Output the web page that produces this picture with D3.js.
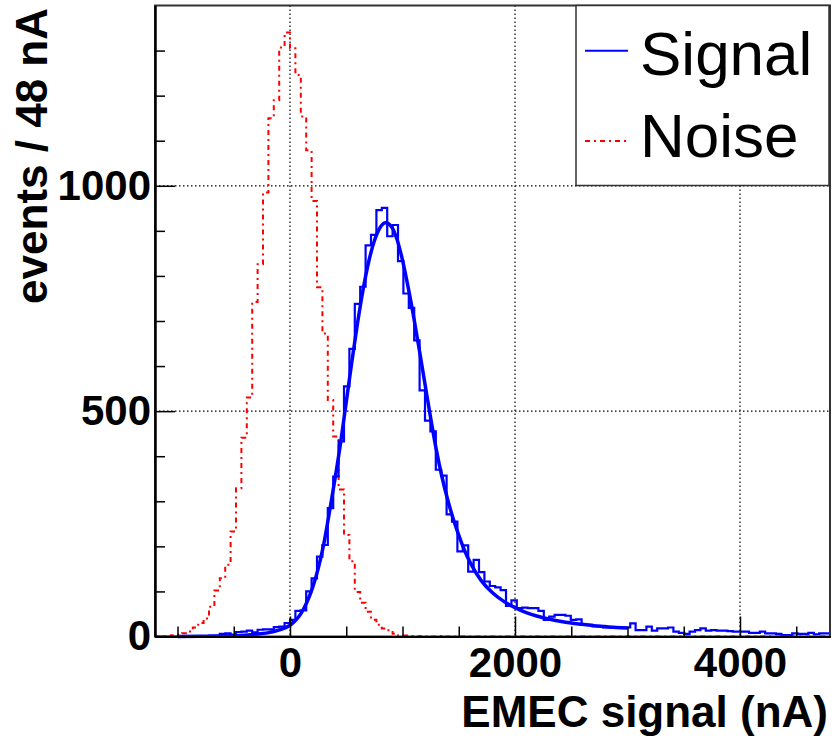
<!DOCTYPE html>
<html>
<head>
<meta charset="utf-8">
<script src="https://cdn.jsdelivr.net/npm/d3@7"></script>
<style>
  body { margin: 0; background: #fff; }
  text { font-family: "Liberation Sans", Arial, Helvetica, sans-serif; }
</style>
</head>
<body>
<div id="container"></div>
<script>
/* DATA */
const binStart = -1200, binWidth = 48;

// events per 48 nA bin, signal histogram
const signalCounts = [
  0, 0, 0, 0, 0, 0, 0, 1, 0, 1,
  2, 2, 6, 7, 4, 10, 11, 13, 9, 15,
  16, 16, 21, 22, 30, 37, 57, 58, 100, 129,
  177, 203, 285, 355, 433, 555, 638, 738, 776, 868,
  891, 946, 951, 888, 913, 833, 761, 729, 657, 546,
  479, 455, 370, 357, 271, 255, 189, 202, 144, 170,
  143, 122, 112, 109, 103, 68, 80, 63, 64, 63,
  63, 57, 37, 44, 48, 48, 46, 37, 38, 26,
  26, 23, 23, 20, 20, 21, 20, 20, 29, 14,
  14, 22, 13, 18, 18, 20, 11, 8, 6, 11,
  14, 18, 13, 14, 13, 13, 12, 11, 11, 11,
  8, 8, 11, 7, 7, 6, 3, 3, 7, 6,
  6, 8, 5, 7, 7
];

// events per 48 nA bin, noise histogram
const noiseCounts = [
  0, 1, 1, 3, 4, 7, 11, 20, 30, 40,
  66, 102, 129, 159, 233, 329, 441, 530, 742, 826,
  985, 1150, 1190, 1307, 1340, 1305, 1246, 1154, 1079, 966,
  775, 672, 525, 444, 326, 225, 167, 99, 75, 55,
  37, 26, 18, 14, 6, 2, 2, 1, 0, 1,
  0, 0, 1, 0, 0, 0, 0, 0, 0, 0,
  0, 0, 0, 0, 0, 0, 0, 0, 0, 0,
  0, 0, 0, 0, 0, 0, 0, 0, 0, 0,
  0, 0, 0, 0, 0, 0, 0, 0, 0, 0,
  0, 0, 0, 0, 0, 0, 0, 0, 0, 0,
  0, 0, 0, 0, 0, 0, 0, 0, 0, 0,
  0, 0, 0, 0, 0, 0, 0, 0, 0, 0,
  0, 0, 0, 0, 0
];

// fit curve to the signal
const fitX = [-1000, -800, -600, -400, -300, -200, -100, 0, 50, 100,
  150, 200, 250, 300, 350, 400, 450, 500, 550, 600,
  650, 700, 750, 800, 850, 900, 950, 1000, 1050, 1100,
  1150, 1200, 1250, 1300, 1350, 1400, 1450, 1500, 1550, 1600,
  1700, 1800, 1900, 2000, 2100, 2200, 2300, 2400, 2500, 2600,
  2700, 2800, 2900, 3000];
const fitY = [0, 0.5, 1, 3, 5, 8, 14, 25, 36, 52,
  76, 108, 150, 205, 275, 350, 430, 520, 610, 695,
  770, 832, 878, 907, 918, 910, 882, 835, 775, 708,
  635, 560, 485, 415, 355, 305, 262, 225, 192, 165,
  124, 97, 78, 64, 53, 45, 39, 34, 30, 27,
  24, 22, 20, 19];

const xMajorTicks = [0, 2000, 4000];
const xMinorTicks = [-1000, -500, 500, 1000, 1500, 2500, 3000, 3500, 4500];
const yMajorTicks = [0, 500, 1000];
const yMinorTicks = [100, 200, 300, 400, 600, 700, 800, 900, 1100, 1200, 1300];

const legendItems = ["Signal", "Noise"];
const xTitle = "EMEC signal (nA)";
const yTitle = "events / 48 nA";

/* CONSTANTS */
const width = 832, height = 738;
const plot = { left: 155, right: 830, top: 5.5, bottom: 636.5 };
const labelFont = 42, titleFont = 44;

/* SCALES */
const xScale = d3.scaleLinear()
  .domain([-1200, 4800])
  .range([plot.left, plot.right]);

const yScale = d3.scaleLinear()
  .domain([0, 1400])
  .range([plot.bottom, plot.top]);

const svg = d3.select("#container")
  .append("svg")
  .attr("width", width)
  .attr("height", height);

svg.append("rect")
  .attr("width", width)
  .attr("height", height)
  .attr("fill", "#fff");

// GRID
svg.append("g")
  .selectAll("line")
  .data(xMajorTicks)
  .join("line")
  .attr("x1", d => xScale(d)).attr("x2", d => xScale(d))
  .attr("y1", plot.top).attr("y2", plot.bottom)
  .attr("stroke", "#000")
  .attr("stroke-width", 1.2)
  .attr("stroke-dasharray", "1.5,2.5");

svg.append("g")
  .selectAll("line")
  .data(yMajorTicks.filter(d => d > 0))
  .join("line")
  .attr("y1", d => yScale(d)).attr("y2", d => yScale(d))
  .attr("x1", plot.left).attr("x2", plot.right)
  .attr("stroke", "#000")
  .attr("stroke-width", 1.2)
  .attr("stroke-dasharray", "1.5,2.5");

// HISTOGRAMS
const toSteps = counts => {
  const pts = counts.map((c, i) => ({ x: binStart + i * binWidth, y: c }));
  pts.push({ x: binStart + counts.length * binWidth, y: counts[counts.length - 1] });
  return pts;
};

const stepLine = d3.line()
  .x(d => xScale(d.x))
  .y(d => yScale(d.y))
  .curve(d3.curveStepAfter);

svg.append("path")
  .datum(toSteps(noiseCounts))
  .attr("d", stepLine)
  .attr("fill", "none")
  .attr("stroke", "#ff0000")
  .attr("stroke-width", 2)
  .attr("stroke-dasharray", "5,4,2,4");

svg.append("path")
  .datum(toSteps(signalCounts))
  .attr("d", stepLine)
  .attr("fill", "none")
  .attr("stroke", "#0000ff")
  .attr("stroke-width", 2.2);

// FIT CURVE
const fitLine = d3.line()
  .x((d, i) => xScale(fitX[i]))
  .y(d => yScale(d))
  .curve(d3.curveMonotoneX);

svg.append("path")
  .datum(fitY)
  .attr("d", fitLine)
  .attr("fill", "none")
  .attr("stroke", "#0000ff")
  .attr("stroke-width", 3.5);

// FRAME
svg.append("rect")
  .attr("x", plot.left)
  .attr("y", plot.top)
  .attr("width", plot.right - plot.left)
  .attr("height", plot.bottom - plot.top)
  .attr("fill", "none")
  .attr("stroke", "#333")
  .attr("stroke-width", 2);

// AXES
const fmt = d3.format("d");

svg.append("g")
  .attr("transform", `translate(0, ${plot.bottom})`)
  .call(d3.axisBottom(xScale).tickValues(xMajorTicks).tickFormat(fmt)
    .tickSizeInner(-20).tickSizeOuter(0).tickPadding(11));
svg.append("g")
  .attr("transform", `translate(0, ${plot.bottom})`)
  .call(d3.axisBottom(xScale).tickValues(xMinorTicks).tickSizeInner(-10).tickSizeOuter(0).tickFormat(""));

svg.append("g")
  .attr("transform", `translate(${plot.left}, 0)`)
  .call(d3.axisLeft(yScale).tickValues(yMajorTicks).tickFormat(fmt)
    .tickSizeInner(-20).tickSizeOuter(0).tickPadding(4));
svg.append("g")
  .attr("transform", `translate(${plot.left}, 0)`)
  .call(d3.axisLeft(yScale).tickValues(yMinorTicks).tickSizeInner(-10).tickSizeOuter(0).tickFormat(""));

svg.selectAll(".domain")
  .attr("stroke", "#000")
  .attr("stroke-width", 2);
svg.selectAll(".tick line")
  .attr("stroke", "#000")
  .attr("stroke-width", 1.5);
svg.selectAll(".tick text")
  .attr("fill", "#000")
  .style("font-size", labelFont + "px")
  .style("font-weight", "bold")
  .style("font-family", '"Liberation Sans", Arial, sans-serif');

// AXIS TITLES
svg.append("text")
  .attr("x", 828)
  .attr("y", 727)
  .attr("text-anchor", "end")
  .style("font-size", titleFont + "px")
  .style("font-weight", "bold")
  .text(xTitle);

svg.append("text")
  .attr("transform", "translate(47, 8) rotate(-90)")
  .attr("text-anchor", "end")
  .style("font-size", titleFont + "px")
  .style("font-weight", "bold")
  .text(yTitle);

// LEGEND
const legend = svg.append("g");
legend.append("rect")
  .attr("x", 576)
  .attr("y", plot.top)
  .attr("width", 253)
  .attr("height", 180)
  .attr("fill", "#fff")
  .attr("stroke", "#333")
  .attr("stroke-width", 1.5);

const legendY = [50.7, 141];
const legendBase = [75, 157];
legend.selectAll("line")
  .data(legendItems)
  .join("line")
  .attr("x1", 585).attr("x2", 628)
  .attr("y1", (d, i) => legendY[i]).attr("y2", (d, i) => legendY[i])
  .attr("stroke", (d, i) => i === 0 ? "#0000ff" : "#ff0000")
  .attr("stroke-width", 2)
  .attr("stroke-dasharray", (d, i) => i === 0 ? null : "5,4,2,4");

legend.selectAll("text")
  .data(legendItems)
  .join("text")
  .attr("x", 640)
  .attr("y", (d, i) => legendBase[i])
  .style("font-size", "62px")
  .text(d => d);
</script>
</body>
</html>
